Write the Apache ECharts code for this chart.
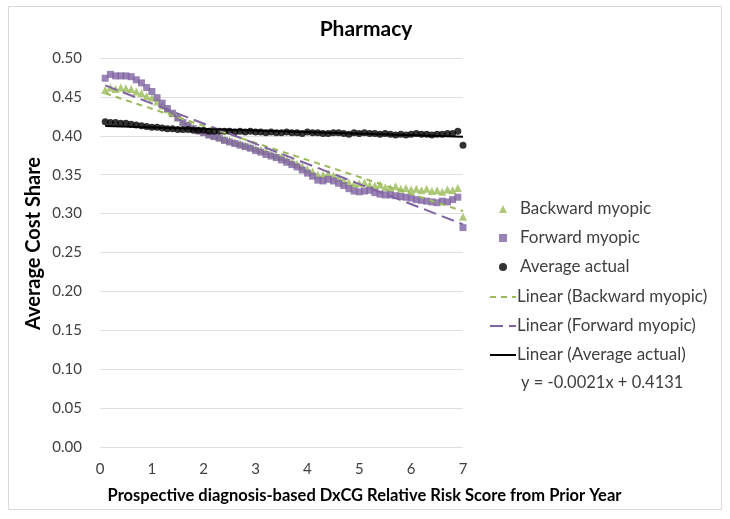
<!DOCTYPE html>
<html><head><meta charset="utf-8">
<script src="https://cdn.jsdelivr.net/npm/echarts@6/dist/echarts.min.js"></script>
<style>html,body{margin:0;padding:0;background:#fff}#c{width:730px;height:519px}</style>
</head><body><div id="c"></div>
<script>
const xs = [0.1,0.2,0.3,0.4,0.5,0.6,0.7,0.8,0.9,1.0,1.1,1.2,1.3,1.4,1.5,1.6,1.7,1.8,1.9,2.0,2.1,2.2,2.3,2.4,2.5,2.6,2.7,2.8,2.9,3.0,3.1,3.2,3.3,3.4,3.5,3.6,3.7,3.8,3.9,4.0,4.1,4.2,4.3,4.4,4.5,4.6,4.7,4.8,4.9,5.0,5.1,5.2,5.3,5.4,5.5,5.6,5.7,5.8,5.9,6.0,6.1,6.2,6.3,6.4,6.5,6.6,6.7,6.8,6.9,7.0];
const backward = [0.459,0.462,0.460,0.462,0.461,0.460,0.457,0.455,0.451,0.449,0.444,0.439,0.434,0.429,0.424,0.419,0.415,0.411,0.408,0.405,0.402,0.400,0.398,0.396,0.394,0.392,0.390,0.388,0.386,0.384,0.382,0.380,0.377,0.375,0.373,0.370,0.367,0.364,0.361,0.357,0.354,0.350,0.350,0.352,0.349,0.346,0.343,0.340,0.338,0.339,0.340,0.337,0.336,0.337,0.334,0.333,0.335,0.332,0.333,0.331,0.332,0.330,0.332,0.329,0.330,0.328,0.331,0.330,0.333,0.296];
const forward = [0.474,0.479,0.477,0.477,0.477,0.476,0.472,0.468,0.462,0.457,0.449,0.442,0.435,0.429,0.423,0.417,0.413,0.409,0.406,0.404,0.401,0.399,0.397,0.394,0.392,0.390,0.388,0.386,0.384,0.381,0.379,0.376,0.374,0.372,0.369,0.366,0.363,0.360,0.356,0.352,0.348,0.343,0.342,0.344,0.342,0.339,0.336,0.332,0.329,0.328,0.329,0.330,0.327,0.325,0.324,0.324,0.323,0.322,0.321,0.320,0.318,0.317,0.316,0.315,0.314,0.316,0.315,0.318,0.321,0.282];
const actual = [0.418,0.417,0.417,0.416,0.416,0.415,0.414,0.413,0.412,0.411,0.411,0.410,0.409,0.409,0.408,0.408,0.408,0.407,0.407,0.407,0.406,0.406,0.406,0.406,0.406,0.405,0.406,0.405,0.406,0.405,0.405,0.404,0.405,0.404,0.404,0.405,0.404,0.404,0.403,0.405,0.404,0.404,0.403,0.403,0.404,0.404,0.403,0.402,0.404,0.403,0.404,0.403,0.403,0.402,0.403,0.402,0.401,0.402,0.401,0.402,0.403,0.402,0.402,0.401,0.402,0.402,0.403,0.403,0.406,0.388];
const seriesNames = ['Backward myopic','Forward myopic','Average actual','Linear (Backward myopic)','Linear (Forward myopic)','Linear (Average actual)'];
const equationText = 'y = -0.0021x + 0.4131';
const yTicks = {min:0, max:0.5, interval:0.05};
const xTicks = {min:0, max:7, interval:1};

function fit(x, y){
  const n=x.length; let sx=0,sy=0,sxx=0,sxy=0;
  for(let i=0;i<n;i++){sx+=x[i];sy+=y[i];sxx+=x[i]*x[i];sxy+=x[i]*y[i];}
  const b=(n*sxy-sx*sy)/(n*sxx-sx*sx); const a=(sy-b*sx)/n;
  const x0=x[0], x1=x[n-1];
  return [[x0,a+b*x0],[x1,a+b*x1]];
}
const pts = arr => xs.map((x,i)=>[x,arr[i]]);
const green='#9BBB59', purple='#8064A2', black='#000000';
const font='Lato, "Open Sans", sans-serif';
const hidden = {color:'rgba(0,0,0,0)', borderWidth:0, opacity:0};

const chart = echarts.init(document.getElementById('c'), null, {renderer:'canvas'});
chart.setOption({
  animation:false,
  backgroundColor:'#fff',
  textStyle:{fontFamily:font},
  title:{text:'Pharmacy', left:361, top:14, textAlign:'center',
    textStyle:{fontSize:21, fontWeight:'bold', color:'#000', fontFamily:font}},
  grid:{left:100, right:267, top:58, bottom:72, containLabel:false},
  xAxis:{type:'value', min:xTicks.min, max:xTicks.max, interval:xTicks.interval,
    name:'Prospective diagnosis-based DxCG Relative Risk Score from Prior Year',
    nameLocation:'middle', nameGap:40,
    nameTextStyle:{fontSize:16.5, fontWeight:'bold', color:'#000', fontFamily:font, padding:[0,0,0,166]},
    axisLine:{show:false}, axisTick:{show:false}, splitLine:{show:false},
    axisLabel:{fontSize:15, color:'#404040', margin:15, fontFamily:font}},
  yAxis:{type:'value', min:yTicks.min, max:yTicks.max, interval:yTicks.interval,
    name:'Average Cost Share', nameLocation:'middle', nameGap:56,
    nameTextStyle:{fontSize:20, fontWeight:'bold', color:'#000', fontFamily:font, padding:[0,0,0,18]},
    axisLine:{show:false}, axisTick:{show:false},
    splitLine:{lineStyle:{color:'#e0e0e0', width:1}},
    axisLabel:{fontSize:15, color:'#404040', margin:18, fontFamily:font,
      formatter:v=>v.toFixed(2)}},
  legend:[
    {orient:'vertical', left:494, top:194, itemGap:9, itemWidth:8, itemHeight:8,
      data:[{name:seriesNames[0], icon:'triangle'},{name:seriesNames[1], icon:'rect'},{name:seriesNames[2], icon:'circle'}],
      textStyle:{fontSize:17, lineHeight:20, color:'#404040', fontFamily:font, padding:[0,0,0,8]}},
    {orient:'vertical', left:484, top:282, itemGap:9, itemWidth:26, itemHeight:8,
      data:[{name:seriesNames[3], itemStyle:hidden},{name:seriesNames[4], itemStyle:hidden},{name:seriesNames[5], itemStyle:hidden}],
      textStyle:{fontSize:17, lineHeight:20, color:'#404040', fontFamily:font, padding:[0,0,0,-4]}}
  ],
  graphic:[
    {type:'rect', shape:{x:8.5,y:6.5,width:713,height:503}, style:{fill:'none', stroke:'#d9d9d9', lineWidth:1}, silent:true, z:-10},
    {type:'text', left:521, top:374, style:{text:equationText, fontSize:16.5, fill:'#404040', fontFamily:font}}
  ],
  series:[
    {name:seriesNames[0], type:'scatter', symbol:'triangle', symbolSize:8, itemStyle:{color:green}, data:pts(backward), z:2},
    {name:seriesNames[1], type:'scatter', symbol:'rect', symbolSize:7, itemStyle:{color:purple}, data:pts(forward), z:2},
    {name:seriesNames[2], type:'scatter', symbol:'circle', symbolSize:7, itemStyle:{color:black}, data:pts(actual), z:3},
    {name:seriesNames[3], type:'line', symbol:'none', data:fit(xs,backward), lineStyle:{color:green, width:2, type:[6,5]}, itemStyle:{color:green}, z:4},
    {name:seriesNames[4], type:'line', symbol:'none', data:fit(xs,forward), lineStyle:{color:purple, width:2, type:[13,6]}, itemStyle:{color:purple}, z:4},
    {name:seriesNames[5], type:'line', symbol:'none', data:fit(xs,actual), lineStyle:{color:black, width:2, type:'solid'}, itemStyle:{color:black}, z:4}
  ]
});
</script></body></html>
